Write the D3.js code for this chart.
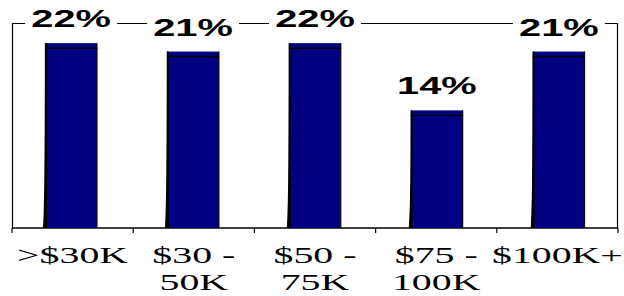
<!DOCTYPE html>
<html>
<head>
<meta charset="utf-8">
<script src="https://cdn.jsdelivr.net/npm/d3@7"></script>
<style>
  body { margin: 0; background: #fff; }
  svg { display: block; }
</style>
</head>
<body>
<div id="chart"></div>
<script>
// data
var categories = [">$30K", "$30 -|50K", "$50 -|75K", "$75 -|100K", "$100K+"];
var values = [22, 21, 22, 14, 21];
var valueLabels = ["22%", "21%", "22%", "14%", "21%"];

var svgWidth = 624;
var svgHeight = 296;

var margin = { top: 23, right: 6, bottom: 68, left: 12 };
var width = svgWidth - margin.left - margin.right;
var height = svgHeight - margin.top - margin.bottom;

var svg = d3.select("#chart")
  .append("svg")
  .attr("width", svgWidth)
  .attr("height", svgHeight);

var chartGroup = svg.append("g")
  .attr("transform", `translate(${margin.left}, ${margin.top})`);

var xScale = d3.scaleBand()
  .domain(d3.range(categories.length))
  .range([0, width])
  .paddingInner(0.57)
  .paddingOuter(0.27);

var yScale = d3.scaleLinear()
  .domain([0, 24.4])
  .range([height, 0]);

var stretch = 1.66;

// frame: left, top, right lines
chartGroup.append("path")
  .attr("d", `M0.5,${height} V0.5 H${width - 0.5} V${height}`)
  .attr("fill", "none")
  .attr("stroke", "#000")
  .attr("stroke-width", 1.2);

// bottom axis with ticks between categories
var bandStep = width / categories.length;
var bottomAxis = chartGroup.append("g")
  .attr("transform", `translate(0, ${height})`);
bottomAxis.append("line")
  .attr("x1", 0).attr("x2", width)
  .attr("stroke", "#000").attr("stroke-width", 1.5);
bottomAxis.selectAll("line.tick")
  .data(d3.range(categories.length + 1))
  .enter()
  .append("line")
  .attr("class", "tick")
  .attr("x1", d => d * bandStep).attr("x2", d => d * bandStep)
  .attr("y1", 0).attr("y2", 5)
  .attr("stroke", "#000").attr("stroke-width", 1.2);

// bars
var bars = chartGroup.selectAll("g.bar")
  .data(values)
  .enter()
  .append("g")
  .attr("class", "bar");

bars.append("rect")
  .attr("x", (d, i) => xScale(i))
  .attr("y", d => yScale(d))
  .attr("width", xScale.bandwidth())
  .attr("height", d => height - yScale(d))
  .attr("fill", "#000080");

// top face edge
bars.append("line")
  .attr("x1", (d, i) => xScale(i)).attr("x2", (d, i) => xScale(i) + xScale.bandwidth())
  .attr("y1", d => yScale(d) + 5).attr("y2", d => yScale(d) + 5)
  .attr("stroke", "#000").attr("stroke-width", 1.5);

// left side edge
bars.append("path")
  .attr("d", (d, i) => {
    var x = xScale(i);
    return `M${x},${yScale(d)} L${x + 2},${yScale(d)} L${x + 2},${height} L${x - 2},${height} Q${x},${height - 25} ${x},${yScale(d)} Z`;
  })
  .attr("fill", "#000");

// right edge
bars.append("line")
  .attr("x1", (d, i) => xScale(i) + xScale.bandwidth() - 0.5)
  .attr("x2", (d, i) => xScale(i) + xScale.bandwidth() - 0.5)
  .attr("y1", d => yScale(d)).attr("y2", height)
  .attr("stroke", "#111").attr("stroke-width", 1);

// value labels with white backing
var labels = chartGroup.selectAll("g.vlabel")
  .data(values)
  .enter()
  .append("g")
  .attr("class", "vlabel")
  .attr("transform", (d, i) => `translate(${xScale(i) + xScale.bandwidth() / 2}, ${yScale(d) - 16})`);

labels.append("rect")
  .attr("x", -46).attr("y", -20)
  .attr("width", 92).attr("height", 22)
  .attr("fill", "#fff");

labels.append("text")
  .attr("transform", `scale(${stretch}, 1)`)
  .attr("text-anchor", "middle")
  .style("font-family", "'Liberation Sans', Arial, sans-serif")
  .style("font-weight", "bold")
  .style("font-size", "24px")
  .attr("fill", "#000")
  .text((d, i) => valueLabels[i]);

// category labels
var catLabels = chartGroup.selectAll("g.clabel")
  .data(categories)
  .enter()
  .append("g")
  .attr("class", "clabel")
  .attr("transform", (d, i) => `translate(${(i + 0.5) * bandStep}, ${height + 35})`);

catLabels.each(function(d) {
  var lines = d.split("|");
  d3.select(this).selectAll("text")
    .data(lines)
    .enter()
    .append("text")
    .attr("transform", (t, j) => `translate(0, ${j * 27}) scale(${stretch}, 1)`)
    .attr("text-anchor", "middle")
    .style("font-family", "'Liberation Serif', 'Times New Roman', serif")
    .style("font-size", "24px")
    .attr("fill", "#000")
    .text(t => t);
});
</script>
</body>
</html>
